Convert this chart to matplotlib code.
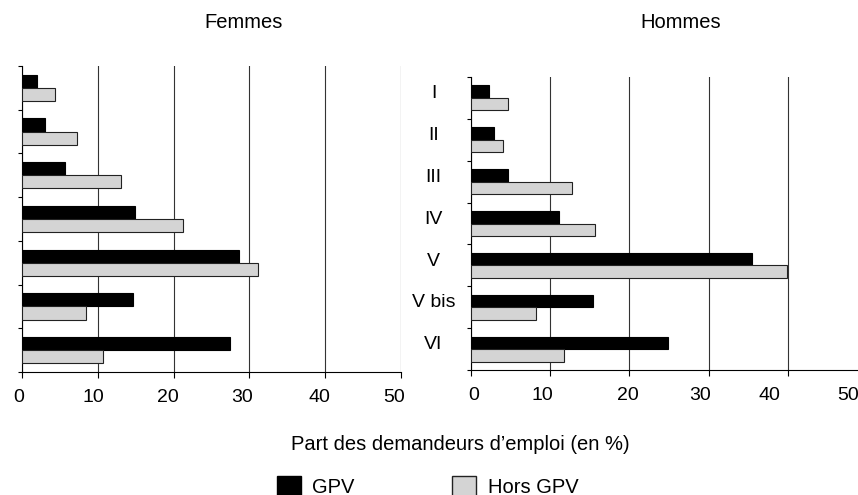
import numpy as np
import matplotlib.pyplot as plt
from matplotlib.patches import Patch
from matplotlib.transforms import ScaledTranslation

plt.rcParams['font.family'] = ['Liberation Sans', 'DejaVu Sans']

# categories (niveaux de formation), top to bottom
niveaux = ["I", "II", "III", "IV", "V", "V bis", "VI"]

# Femmes (%)
femmes_gpv = [2.0, 3.1, 5.7, 14.9, 28.6, 14.6, 27.5]
femmes_hors = [4.4, 7.3, 13.1, 21.2, 31.1, 8.4, 10.7]

# Hommes (%)
hommes_gpv = [2.3, 2.9, 4.7, 11.1, 35.5, 15.4, 24.9]
hommes_hors = [4.7, 4.1, 12.7, 15.7, 39.9, 8.2, 11.7]

xticks = [0, 10, 20, 30, 40, 50]

W, H = 858, 495
fig = plt.figure(figsize=(W / 100, H / 100), dpi=100)

def px_axes(x0, y0, x1, y1):
    return fig.add_axes([x0 / W, 1 - y1 / H, (x1 - x0) / W, (y1 - y0) / H])

ax_f = px_axes(22, 66, 401, 372)
ax_h = px_axes(471, 77, 867, 370)

y = np.arange(len(niveaux))
bh = 0.3

def draw(ax, gpv, hors, labels, label_dx):
    ax.barh(y - bh / 2, gpv, height=bh, color="black", edgecolor="black", linewidth=0.8, zorder=3)
    ax.barh(y + bh / 2, hors, height=bh, color="#d4d4d4", edgecolor="#222222", linewidth=0.8, zorder=3)
    ax.set_xlim(0, 50)
    ax.set_ylim(len(niveaux) - 0.5, -0.5)
    ax.set_xticks(xticks)
    ax.tick_params(axis="x", direction="out", length=4, width=0.8, pad=8, labelsize=14)
    # the printed labels sit a little off their ticks in the original
    for tk, dx in zip(ax.xaxis.get_major_ticks(), label_dx):
        lab = tk.label1
        lab.set_transform(lab.get_transform() + ScaledTranslation(dx / 100, 0, fig.dpi_scale_trans))
    ax.set_yticks(np.arange(len(niveaux) + 1) - 0.5)
    ax.set_yticklabels([])
    ax.tick_params(axis="y", which="major", direction="out", length=3, width=0.8)
    if labels:
        ax.set_yticks(y - 0.15, minor=True)
        ax.set_yticklabels(niveaux, minor=True)
        for t in ax.get_yticklabels(minor=True):
            t.set_horizontalalignment("center")
        ax.tick_params(axis="y", which="minor", length=0, pad=27, labelsize=14)
    ax.grid(axis="x", color="#333333", linewidth=0.8, zorder=0)
    ax.grid(axis="y", visible=False)
    for s in ["top", "right"]:
        ax.spines[s].set_visible(False)
    for s in ["left", "bottom"]:
        ax.spines[s].set_linewidth(0.8)

draw(ax_f, femmes_gpv, femmes_hors, False, [-3, -4, -6, -7, -6, -7])
draw(ax_h, hommes_gpv, hommes_hors, True, [3, -8, -2, -9, -18, -19])

fig.text(244 / W, 1 - 23 / H, "Femmes", ha="center", va="center", fontsize=14.5)
fig.text(681 / W, 1 - 23 / H, "Hommes", ha="center", va="center", fontsize=14.5)
fig.text(460 / W, 1 - 445 / H, "Part des demandeurs d\u2019emploi (en %)", ha="center", va="center", fontsize=14.5)

handles = [Patch(facecolor="black", edgecolor="black"),
           Patch(facecolor="#d4d4d4", edgecolor="#222222")]
fig.legend(handles, ["GPV", "Hors GPV"], ncol=2, frameon=False, fontsize=14.5,
           loc="upper left", bbox_to_anchor=(277 / W, 1 - 476 / H),
           borderpad=0, borderaxespad=0, handlelength=1.2, handleheight=1.2,
           handletextpad=0.55, columnspacing=4.85)

fig.savefig("out.png", dpi=100)
